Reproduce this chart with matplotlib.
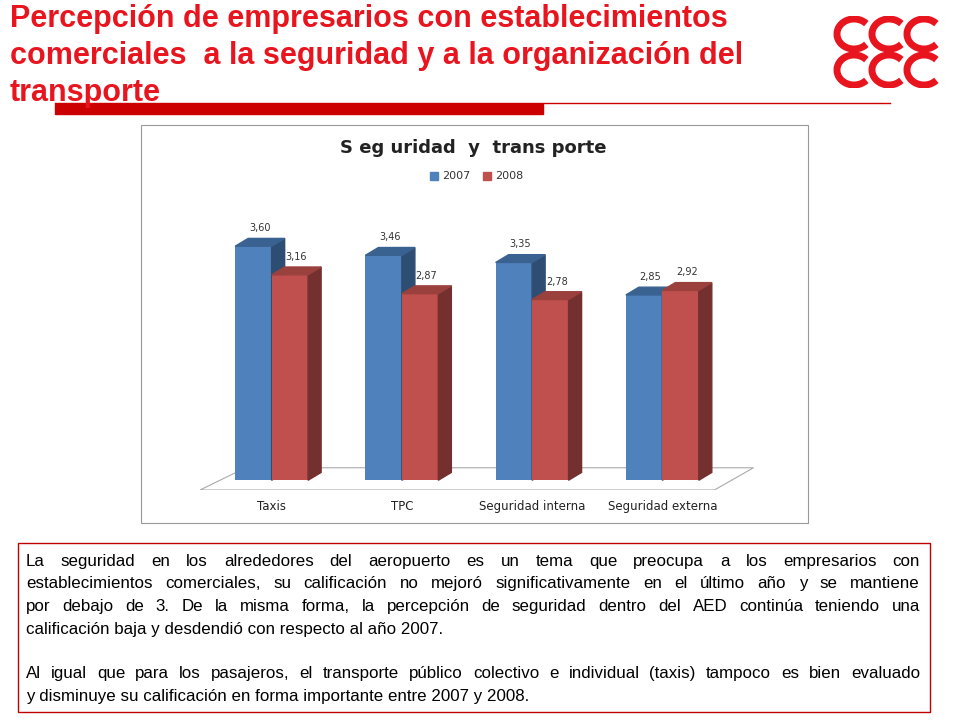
import matplotlib
matplotlib.use("Agg")
import matplotlib.pyplot as plt
from matplotlib.patches import Polygon, Rectangle, Arc

categories = ["Taxis", "TPC", "Seguridad interna", "Seguridad externa"]
years = ["2007", "2008"]
v2007 = [3.60, 3.46, 3.35, 2.85]
v2008 = [3.16, 2.87, 2.78, 2.92]

fig = plt.figure(figsize=(9.6, 7.2), dpi=100)
fig.patch.set_facecolor("white")
W, H = 960, 720
def fx(x): return x / W
def fy(y): return 1 - y / H

# Title
title_lines = ["Percepción de empresarios con establecimientos",
               "comerciales  a la seguridad y a la organización del",
               "transporte"]
for k, t in enumerate(title_lines):
    fig.text(fx(10), fy(27 + k * 37), t, color="#E8141E", fontsize=22, fontweight="bold",
             family="Liberation Sans", va="baseline", ha="left")
fig.add_artist(Rectangle((fx(55), fy(114)), fx(488), 10/H, color="#CC0000", transform=fig.transFigure))
fig.add_artist(plt.Line2D([fx(55), fx(890)], [fy(103), fy(103)], color="#CC0000", lw=1, transform=fig.transFigure))

# Logo
lax = fig.add_axes([fx(832), fy(88), fx(115), 72/H])
lax.set_xlim(0, 115); lax.set_ylim(0, 72); lax.axis("off")
for cx in (22, 57, 92):
    for cy in (18, 54):
        lax.add_patch(Arc((cx, cy), 34, 30, theta1=40, theta2=320, color="#E8141E", lw=5))

# Chart frame
fig.add_artist(Rectangle((fx(141), fy(523)), fx(667), 398/H, fill=False, ec="#999999", lw=0.8, transform=fig.transFigure))
fig.text(fx(473), fy(148), "S eg uridad  y  trans porte", ha="center", va="center", fontsize=13, fontweight="bold", color="#222222")
c07, c08 = "#4F81BD", "#C0504D"
s07, t07 = "#2E4D73", "#3A6291"
s08, t08 = "#74302E", "#9A403D"
fig.add_artist(Rectangle((fx(430), fy(180)), 8/W, 8/H, color=c07, transform=fig.transFigure))
fig.text(fx(442), fy(176), "2007", fontsize=8, va="center", color="#333")
fig.add_artist(Rectangle((fx(483), fy(180)), 8/W, 8/H, color=c08, transform=fig.transFigure))
fig.text(fx(495), fy(176), "2008", fontsize=8, va="center", color="#333")

ax = fig.add_axes([fx(200), fy(490), fx(560), 340/H])
ax.set_xlim(-0.55, 3.75)
ax.set_ylim(-0.15, 5.08)
ax.axis("off")
bw = 0.28
dx, dy = 0.1, 0.12
ax.add_patch(Polygon([(-0.55, -0.15), (3.4, -0.15), (3.7, dy*1.6), (-0.2, dy*1.6)], closed=True, fill=False, ec="#AAAAAA", lw=0.8))
for i, cat in enumerate(categories):
    for j, (vals, cf, cs, ct) in enumerate([(v2007, c07, s07, t07), (v2008, c08, s08, t08)]):
        x0 = i - bw + j * bw
        v = vals[i]
        ax.bar(x0, v, width=bw, align="edge", color=cf, zorder=3 + j)
        ax.add_patch(Polygon([(x0 + bw, 0), (x0 + bw + dx, dy), (x0 + bw + dx, v + dy), (x0 + bw, v)], color=cs, zorder=3 + j))
        ax.add_patch(Polygon([(x0, v), (x0 + dx, v + dy), (x0 + bw + dx, v + dy), (x0 + bw, v)], color=ct, zorder=3 + j))
        ax.text(x0 + bw/2 + dx/2, v + dy + 0.08, f"{v:.2f}".replace(".", ","), ha="center", va="bottom", fontsize=7, color="#333", zorder=10)
    ax.text(i, -0.3, cat, ha="center", va="top", fontsize=8.5, color="#222")

# Text box
fig.add_artist(Rectangle((fx(18), fy(712)), fx(912), 169/H, fill=False, ec="#C00000", lw=1, transform=fig.transFigure))
lines = [
    ("La seguridad en los alrededores del aeropuerto es un tema que preocupa a los empresarios con", True),
    ("establecimientos comerciales, su calificación no mejoró significativamente en el último año y se mantiene", True),
    ("por debajo de 3. De la misma forma, la percepción de seguridad dentro del AED continúa teniendo una", True),
    ("calificación baja y desdendió con respecto al año 2007.", False),
    ("", False),
    ("Al igual que para los pasajeros, el transporte público colectivo e individual (taxis) tampoco es bien evaluado", True),
    ("y disminuye su calificación en forma importante entre 2007 y 2008.", False),
]
renderer = fig.canvas.get_renderer()
left, right, top, step = 26, 920, 566, 22.5
fs = 12.2
for k, (line, just) in enumerate(lines):
    y = fy(round(top + k * step))
    if not line:
        continue
    if not just:
        fig.text(fx(left), y, line, fontsize=fs, family="Liberation Sans", va="baseline", ha="left")
        continue
    words = line.split(" ")
    arts = [fig.text(0, y, w, fontsize=fs, family="Liberation Sans", va="baseline", ha="left") for w in words]
    widths = [a.get_window_extent(renderer).width for a in arts]
    gap = (right - left - sum(widths)) / (len(words) - 1)
    x = left
    for a, wd in zip(arts, widths):
        a.set_x(fx(x))
        x += wd + gap

fig.savefig("out.png", dpi=100)
